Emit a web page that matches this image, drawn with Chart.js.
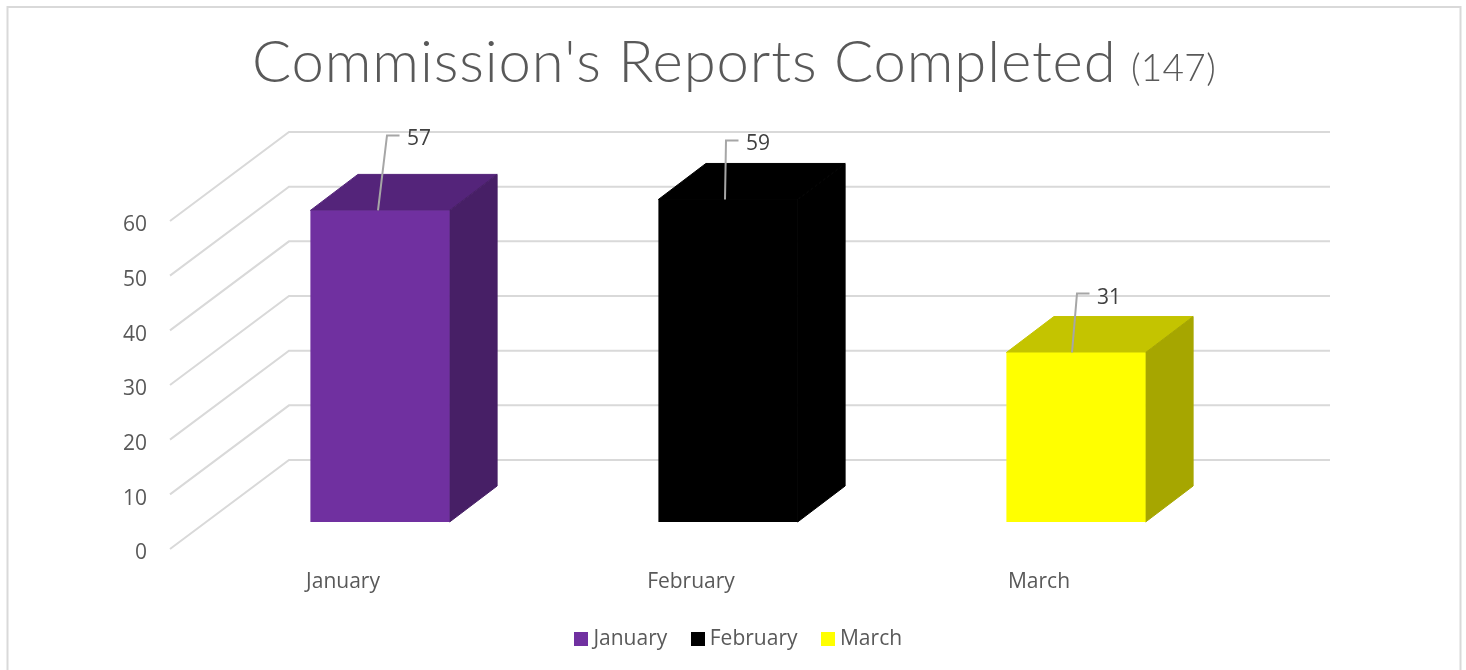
<!DOCTYPE html>
<html lang="en">
<head>
<meta charset="utf-8">
<title>Commission's Reports Completed</title>
<style>
    html, body { margin: 0; padding: 0; background: #fff; overflow: hidden; }
    canvas { display: block; }
</style>
<script src="https://cdn.jsdelivr.net/npm/chart.js@4/dist/chart.umd.min.js"></script>
</head>
<body>
<canvas id="chart" width="1466" height="670"></canvas>
<script>
// Chart data
const months = ['January', 'February', 'March'];
const reports = [57, 59, 31];
const titleText = "Commission's Reports Completed";
const titleTotal = '(147)';
const yMax = 60;
const yStep = 10;

// Bar colours: front, top and side faces
const frontColors = ['#7030A0', '#000000', '#FFFF00'];
const topColors = ['#54247A', '#000000', '#C4C400'];
const sideColors = ['#471F66', '#000000', '#A6A600'];

// Depth of the fake 3D, in pixels from the front plane of the axis
const wallDepth = { x: 119, y: -89 };
const wallRightTrim = 3;
const barFront = { x: 36, y: -27 };
const barBack = { x: 47.5, y: -36 };

// Leader lines: where they leave the bar and where the elbow is, relative to the bar top centre
const leaderStartX = [-2, -3, -4];
const leaderElbowX = [7, -2, 1];
const leaderElbowY = [-75, -59, -59];

const gridColor = '#D9D9D9';
const textFont = '"Open Sans", sans-serif';

function drawLine(ctx, points, color, width) {
    ctx.beginPath();
    points.forEach((p, i) => (i === 0 ? ctx.moveTo(p[0], p[1]) : ctx.lineTo(p[0], p[1])));
    ctx.strokeStyle = color;
    ctx.lineWidth = width;
    ctx.stroke();
}

function drawFace(ctx, points, color) {
    ctx.beginPath();
    points.forEach((p, i) => (i === 0 ? ctx.moveTo(p[0], p[1]) : ctx.lineTo(p[0], p[1])));
    ctx.closePath();
    ctx.fillStyle = color;
    ctx.strokeStyle = color;
    ctx.lineWidth = 1;
    ctx.fill();
    ctx.stroke();
}

// Legend swatch as a small canvas, so the text can sit close to it
function makeSwatch(color) {
    const swatch = document.createElement('canvas');
    swatch.width = 14;
    swatch.height = 14;
    const swatchCtx = swatch.getContext('2d');
    swatchCtx.fillStyle = color;
    swatchCtx.fillRect(0, 0, 14, 14);
    return swatch;
}

const depthPlugin = {
    id: 'depth',
    // Frame and title go first
    beforeDraw(chart) {
        const ctx = chart.ctx;
        ctx.save();
        drawLine(ctx, [[7.5, 670], [7.5, 7], [1460.5, 7], [1460.5, 670]], gridColor, 2);

        ctx.fillStyle = '#595959';
        ctx.textBaseline = 'alphabetic';
        ctx.textAlign = 'left';
        ctx.font = '300 58px Lato, sans-serif';
        ctx.letterSpacing = '0.87px';
        ctx.fillText(titleText, 252, 82);
        ctx.font = '300 37px Lato, sans-serif';
        ctx.letterSpacing = '0.3px';
        ctx.fillText(titleTotal, 1131, 81);
        ctx.restore();
    },
    beforeDatasetsDraw(chart) {
        const ctx = chart.ctx;
        const area = chart.chartArea;
        const y = chart.scales.y;
        ctx.save();

        // Side wall and back wall grid lines, one per axis tick
        y.ticks.forEach(tick => {
            const py = y.getPixelForValue(tick.value);
            drawLine(ctx, [
                [area.left, py],
                [area.left + wallDepth.x, py + wallDepth.y],
                [area.right + wallDepth.x - wallRightTrim, py + wallDepth.y]
            ], gridColor, 2);
        });

        // Top and side of every bar, taken from the bar elements
        chart.getDatasetMeta(0).data.forEach((bar, i) => {
            const left = bar.x - bar.width / 2 + barFront.x;
            const right = bar.x + bar.width / 2 + barFront.x;
            const top = bar.y + barFront.y;
            const bottom = bar.base + barFront.y;
            const dx = barBack.x;
            const dy = barBack.y;
            drawFace(ctx, [[left, top], [left + dx, top + dy], [right + dx, top + dy], [right, top]], topColors[i]);
            drawFace(ctx, [[right, top], [right + dx, top + dy], [right + dx, bottom + dy], [right, bottom]], sideColors[i]);
        });

        // The front faces are drawn by Chart.js, moved back into the plot
        ctx.translate(barFront.x, barFront.y);
    },
    afterDatasetsDraw(chart) {
        const ctx = chart.ctx;
        ctx.restore();
        ctx.save();

        // Value labels with their leader lines
        chart.getDatasetMeta(0).data.forEach((bar, i) => {
            const cx = bar.x + barFront.x;
            const top = bar.y + barFront.y;
            const elbowX = cx + leaderElbowX[i];
            const elbowY = top + leaderElbowY[i];
            drawLine(ctx, [[cx + leaderStartX[i], top], [elbowX, elbowY], [elbowX + 12.5, elbowY]], '#A6A6A6', 2);
            ctx.fillStyle = '#404040';
            ctx.font = '21px ' + textFont;
            ctx.textAlign = 'left';
            ctx.textBaseline = 'middle';
            ctx.fillText(String(reports[i]), elbowX + 20, elbowY + 4);
        });
        ctx.restore();
    },
    // The legend is centred on the page and not on the plot
    afterLayout(chart) {
        chart.legend.left = 12;
        chart.legend.right = 1470;
        chart.legend.top = 599.5;
    }
};

new Chart(document.getElementById('chart'), {
    type: 'bar',
    plugins: [depthPlugin],
    data: {
        labels: months,
        datasets: [{
            label: 'Reports',
            data: reports,
            backgroundColor: frontColors,
            barPercentage: 0.4,
            categoryPercentage: 1
        }]
    },
    options: {
        responsive: false,
        animation: false,
        layout: { padding: { top: 221, right: 252, left: 20, bottom: 0 } },
        scales: {
            x: {
                grid: { display: false },
                border: { display: false },
                ticks: { color: '#595959', font: { family: textFont, size: 21 }, padding: 12, labelOffset: -1 },
                afterFit(scale) { scale.height = 61; }
            },
            y: {
                min: 0,
                max: yMax,
                grid: { display: false },
                border: { display: false },
                ticks: { stepSize: yStep, color: '#595959', font: { family: textFont, size: 21 }, padding: 15, labelOffset: 4.5 },
                afterFit(scale) { scale.width = 150; }
            }
        },
        plugins: {
            title: { display: false },
            tooltip: { enabled: false },
            legend: {
                position: 'bottom',
                labels: {
                    font: { family: textFont, size: 21 },
                    usePointStyle: true,
                    pointStyleWidth: 3,
                    padding: 29,
                    generateLabels() {
                        return months.map((month, i) => ({
                            text: month,
                            fontColor: '#595959',
                            pointStyle: makeSwatch(frontColors[i]),
                            lineWidth: 0,
                            index: i
                        }));
                    }
                }
            }
        }
    }
});
</script>
</body>
</html>
